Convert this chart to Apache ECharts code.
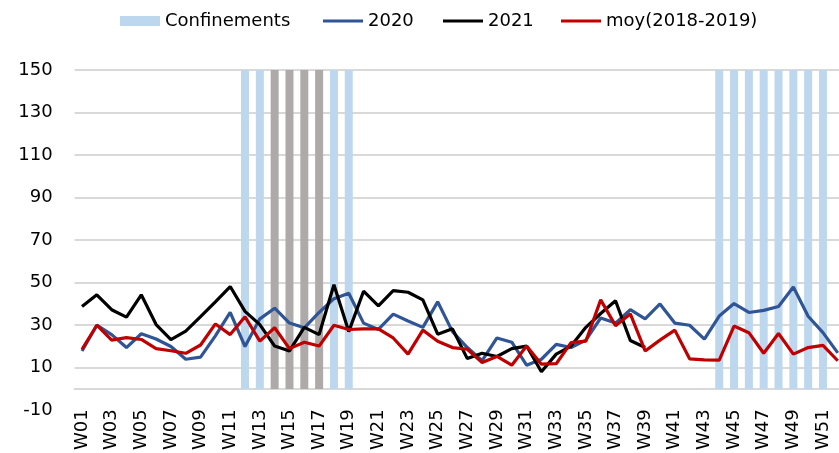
<!DOCTYPE html>
<html>
<head>
<meta charset="utf-8">
<script src="https://cdn.jsdelivr.net/npm/echarts@6/dist/echarts.min.js"></script>
<style>
  html, body { margin: 0; padding: 0; background: #fff; overflow: hidden; }
  /* le graphique dépasse un peu à droite, comme dans l'original */
  #main { width: 846px; height: 453px; }
</style>
</head>
<body>
<div id="main"></div>
<script>
// semaines
var weeks = []
for (var w = 1; w <= 52; w++) {
  weeks.push('W' + (w < 10 ? '0' + w : w))
}

var v2020 = [17.9, 30, 25.6, 19.5, 26, 23.5, 20, 14, 15, 25,
  36, 20, 33, 38, 31, 28.8, 36, 42.5, 45, 31,
  28, 35.2, 32, 29, 41, 27, 19.5, 13.3, 24, 22,
  11.2, 14, 21, 19.5, 23, 33.4, 31, 37.3, 33, 40,
  31, 30, 23.5, 34.3, 40.2, 36, 37, 38.8, 48, 34.2,
  26.5, 17]

var v2021 = [38.8, 44.3, 37.3, 33.8, 44.3, 30.3, 23.2, 27.2, 34, 41,
  48.2, 36.5, 30.3, 20.2, 17.9, 29, 25.6, 49, 27, 46,
  39.1, 46.3, 45.5, 41.9, 25.8, 28.3, 14.3, 16.8, 15.3, 19,
  20.2, 8.1, 16.4, 20.2, 29, 35.5, 41.5, 22.8, 19.5]

var vMoy = [18.7, 30, 23, 24.2, 23.3, 19, 18, 16.8, 20.7, 30.6,
  25.6, 34, 22.5, 28.8, 19, 22, 20.2, 30, 28, 28.3,
  28.3, 24, 16.4, 27.7, 22.5, 19.5, 18.7, 12.5, 15.3, 11.2,
  20.2, 11.7, 11.9, 21.8, 22.5, 41.9, 29.8, 35.3, 17.9, 23,
  27.7, 14.2, 13.7, 13.6, 29.6, 26.5, 16.8, 26.1, 16.4, 19.5,
  20.5, 13.3]

// semaines de confinement (bleu clair) et semaines en gris
var confWeeks = [12, 13, 18, 19, 44, 45, 46, 47, 48, 49, 50, 51]
var greyWeeks = [14, 15, 16, 17]
var barTop = 150

var yTicks = [-10, 10, 30, 50, 70, 90, 110, 130, 150]

function weekBars (list) {
  return weeks.map(function (name, i) {
    return list.indexOf(i + 1) >= 0 ? barTop : null
  })
}

var font = 'DejaVu Sans'
var gridColors = yTicks.map(function (t, i) { return i === 0 ? 'rgba(0,0,0,0)' : '#d9d9d9' })

function legendItem (name, left, width, height, icon) {
  return {
    data: [{ name: name, icon: icon }],
    left: left,
    top: 12,
    padding: 0,
    itemWidth: width,
    itemHeight: height,
    textStyle: { fontFamily: font, fontSize: 18, color: '#000' }
  }
}

var option = {
  animation: false,
  backgroundColor: '#fff',
  textStyle: { fontFamily: font },
  legend: [
    legendItem('Confinements', 120, 40, 10, 'rect'),
    legendItem('2020', 323, 40, 3, 'rect'),
    legendItem('2021', 443, 40, 3, 'rect'),
    legendItem('moy(2018-2019)', 561, 40, 3, 'rect')
  ],
  grid: {
    left: 74.6,
    top: 70,
    right: 0.8,
    bottom: 38
  },
  xAxis: [
    {
      type: 'category',
      data: weeks,
      boundaryGap: true,
      position: 'bottom',
      axisLine: { show: false, onZero: false },
      axisTick: { show: false },
      axisLabel: {
        interval: 1,
        rotate: 90,
        margin: -1,
        fontFamily: font,
        fontSize: 18,
        color: '#000'
      }
    },
    {
      type: 'category',
      data: weeks,
      boundaryGap: true,
      position: 'bottom',
      axisLine: { show: true, onZero: true, lineStyle: { color: '#d9d9d9', width: 2 } },
      axisTick: { show: false },
      axisLabel: { show: false }
    }
  ],
  yAxis: {
    type: 'value',
    min: -10,
    max: 150,
    interval: 20,
    axisLine: { show: false },
    axisTick: { show: false },
    axisLabel: {
      margin: 22,
      fontFamily: font,
      fontSize: 18,
      color: '#000'
    },
    splitLine: { lineStyle: { color: gridColors, width: 2 } }
  },
  series: [
    {
      name: 'Confinements',
      type: 'bar',
      barWidth: 8,
      barGap: '-100%',
      itemStyle: { color: '#bdd7ee' },
      data: weekBars(confWeeks)
    },
    {
      name: 'gris',
      type: 'bar',
      barWidth: 8,
      barGap: '-100%',
      itemStyle: { color: '#aeaaaa' },
      data: weekBars(greyWeeks)
    },
    {
      name: '2020',
      type: 'line',
      symbol: 'none',
      lineStyle: { color: '#2f5597', width: 3.2 },
      itemStyle: { color: '#2f5597' },
      data: v2020
    },
    {
      name: '2021',
      type: 'line',
      symbol: 'none',
      lineStyle: { color: '#000000', width: 3.2 },
      itemStyle: { color: '#000000' },
      data: v2021
    },
    {
      name: 'moy(2018-2019)',
      type: 'line',
      symbol: 'none',
      lineStyle: { color: '#c00000', width: 3.2 },
      itemStyle: { color: '#c00000' },
      data: vMoy
    }
  ]
}

echarts.init(document.getElementById('main')).setOption(option)
</script>
</body>
</html>
